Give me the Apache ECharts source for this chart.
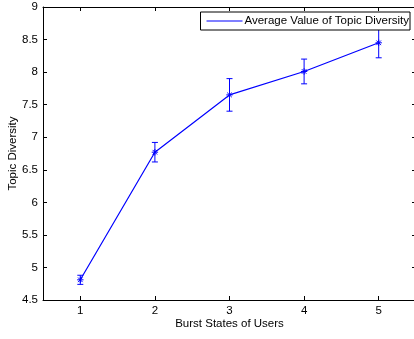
<!DOCTYPE html>
<html><head><meta charset="utf-8">
<script src="https://cdn.jsdelivr.net/npm/echarts@6/dist/echarts.min.js"></script>
<style>html,body{margin:0;padding:0;background:#fff}#c{width:414px;height:339px}</style>
</head><body><div id="c"></div>
<script>
var categories = ['1', '2', '3', '4', '5'];
var meanValues = [4.81, 6.77, 7.65, 8.01, 8.45];
var errorValues = [0.07, 0.15, 0.25, 0.19, 0.23];
var yTicks = [4.5, 5, 5.5, 6, 6.5, 7, 7.5, 8, 8.5, 9];

var FONT = 'Liberation Sans';
var FS = 11.5;
var BLUE = '#0000ff';
var chart = echarts.init(document.getElementById('c'), null, {renderer: 'canvas'});

var errData = categories.map(function (c, i) { return [i, meanValues[i], errorValues[i]]; });

function errRender(params, api) {
  var i = api.value(0), m = api.value(1), e = api.value(2);
  var pTop = api.coord([i, m + e]);
  var pBot = api.coord([i, m - e]);
  var p = api.coord([i, m]);
  var cw = 3, s = 3.2, d = 2.3;
  var st = {stroke: BLUE, lineWidth: 1, fill: null};
  return {
    type: 'group',
    children: [
      {type: 'line', shape: {x1: p[0], y1: pTop[1], x2: p[0], y2: pBot[1]}, style: st},
      {type: 'line', shape: {x1: p[0] - cw, y1: pTop[1], x2: p[0] + cw, y2: pTop[1]}, style: st},
      {type: 'line', shape: {x1: p[0] - cw, y1: pBot[1], x2: p[0] + cw, y2: pBot[1]}, style: st},
      {type: 'line', shape: {x1: p[0] - s, y1: p[1], x2: p[0] + s, y2: p[1]}, style: st},
      {type: 'line', shape: {x1: p[0], y1: p[1] - s, x2: p[0], y2: p[1] + s}, style: st},
      {type: 'line', shape: {x1: p[0] - d, y1: p[1] - d, x2: p[0] + d, y2: p[1] + d}, style: st},
      {type: 'line', shape: {x1: p[0] - d, y1: p[1] + d, x2: p[0] + d, y2: p[1] - d}, style: st}
    ]
  };
}

var axisLineStyle = {show: true, lineStyle: {color: '#000', width: 1}};
var tickStyle = {show: true, inside: true, length: 4, lineStyle: {color: '#000', width: 1}};

chart.setOption({
  animation: false,
  backgroundColor: '#fff',
  textStyle: {fontFamily: FONT},
  grid: {left: 43, top: 7, right: -2, bottom: 39, containLabel: false, outerBoundsMode: 'none'},
  legend: {
    right: 4, top: 12,
    data: [{name: 'Average Value of Topic Diversity', icon: 'rect'}],
    itemWidth: 36, itemHeight: 1, itemGap: 0,
    padding: [3, 1, 3, 6],
    backgroundColor: '#fff', borderColor: '#000', borderWidth: 1, borderRadius: 0,
    textStyle: {fontFamily: FONT, fontSize: FS, color: '#000', padding: [0, 0, 0, -3]}
  },
  xAxis: [{
    type: 'category', data: categories, boundaryGap: true, position: 'bottom',
    name: 'Burst States of Users', nameLocation: 'middle', nameGap: 18, nameMoveOverlap: false,
    nameTextStyle: {fontFamily: FONT, fontSize: FS, color: '#000'},
    axisLine: axisLineStyle,
    axisTick: Object.assign({alignWithLabel: true}, tickStyle),
    axisLabel: {fontFamily: FONT, fontSize: FS, color: '#000', margin: 5},
    splitLine: {show: false}
  }, {
    type: 'category', data: categories, boundaryGap: true, position: 'top',
    axisLine: axisLineStyle,
    axisTick: Object.assign({alignWithLabel: true}, tickStyle),
    axisLabel: {show: false}, splitLine: {show: false}
  }],
  yAxis: [{
    type: 'value', min: 4.5, max: 9, interval: 0.5, position: 'left',
    name: 'Topic Diversity', nameLocation: 'middle', nameGap: 24, nameMoveOverlap: false,
    nameTextStyle: {fontFamily: FONT, fontSize: FS, color: '#000'},
    axisLine: axisLineStyle, axisTick: tickStyle,
    axisLabel: {fontFamily: FONT, fontSize: FS, color: '#000', margin: 5,
      formatter: function (v) { return yTicks.indexOf(v) >= 0 ? String(v) : ''; }},
    splitLine: {show: false}
  }, {
    type: 'value', min: 4.5, max: 9, interval: 0.5, position: 'right',
    axisLine: axisLineStyle, axisTick: tickStyle,
    axisLabel: {show: false}, splitLine: {show: false}
  }],
  series: [{
    name: 'Average Value of Topic Diversity',
    type: 'line', data: meanValues, xAxisIndex: 0, yAxisIndex: 0,
    symbol: 'none', color: BLUE,
    lineStyle: {color: BLUE, width: 1.2}, z: 3
  }, {
    type: 'custom', data: errData, xAxisIndex: 0, yAxisIndex: 0,
    renderItem: errRender, z: 3, silent: true
  }]
});
</script></body></html>
